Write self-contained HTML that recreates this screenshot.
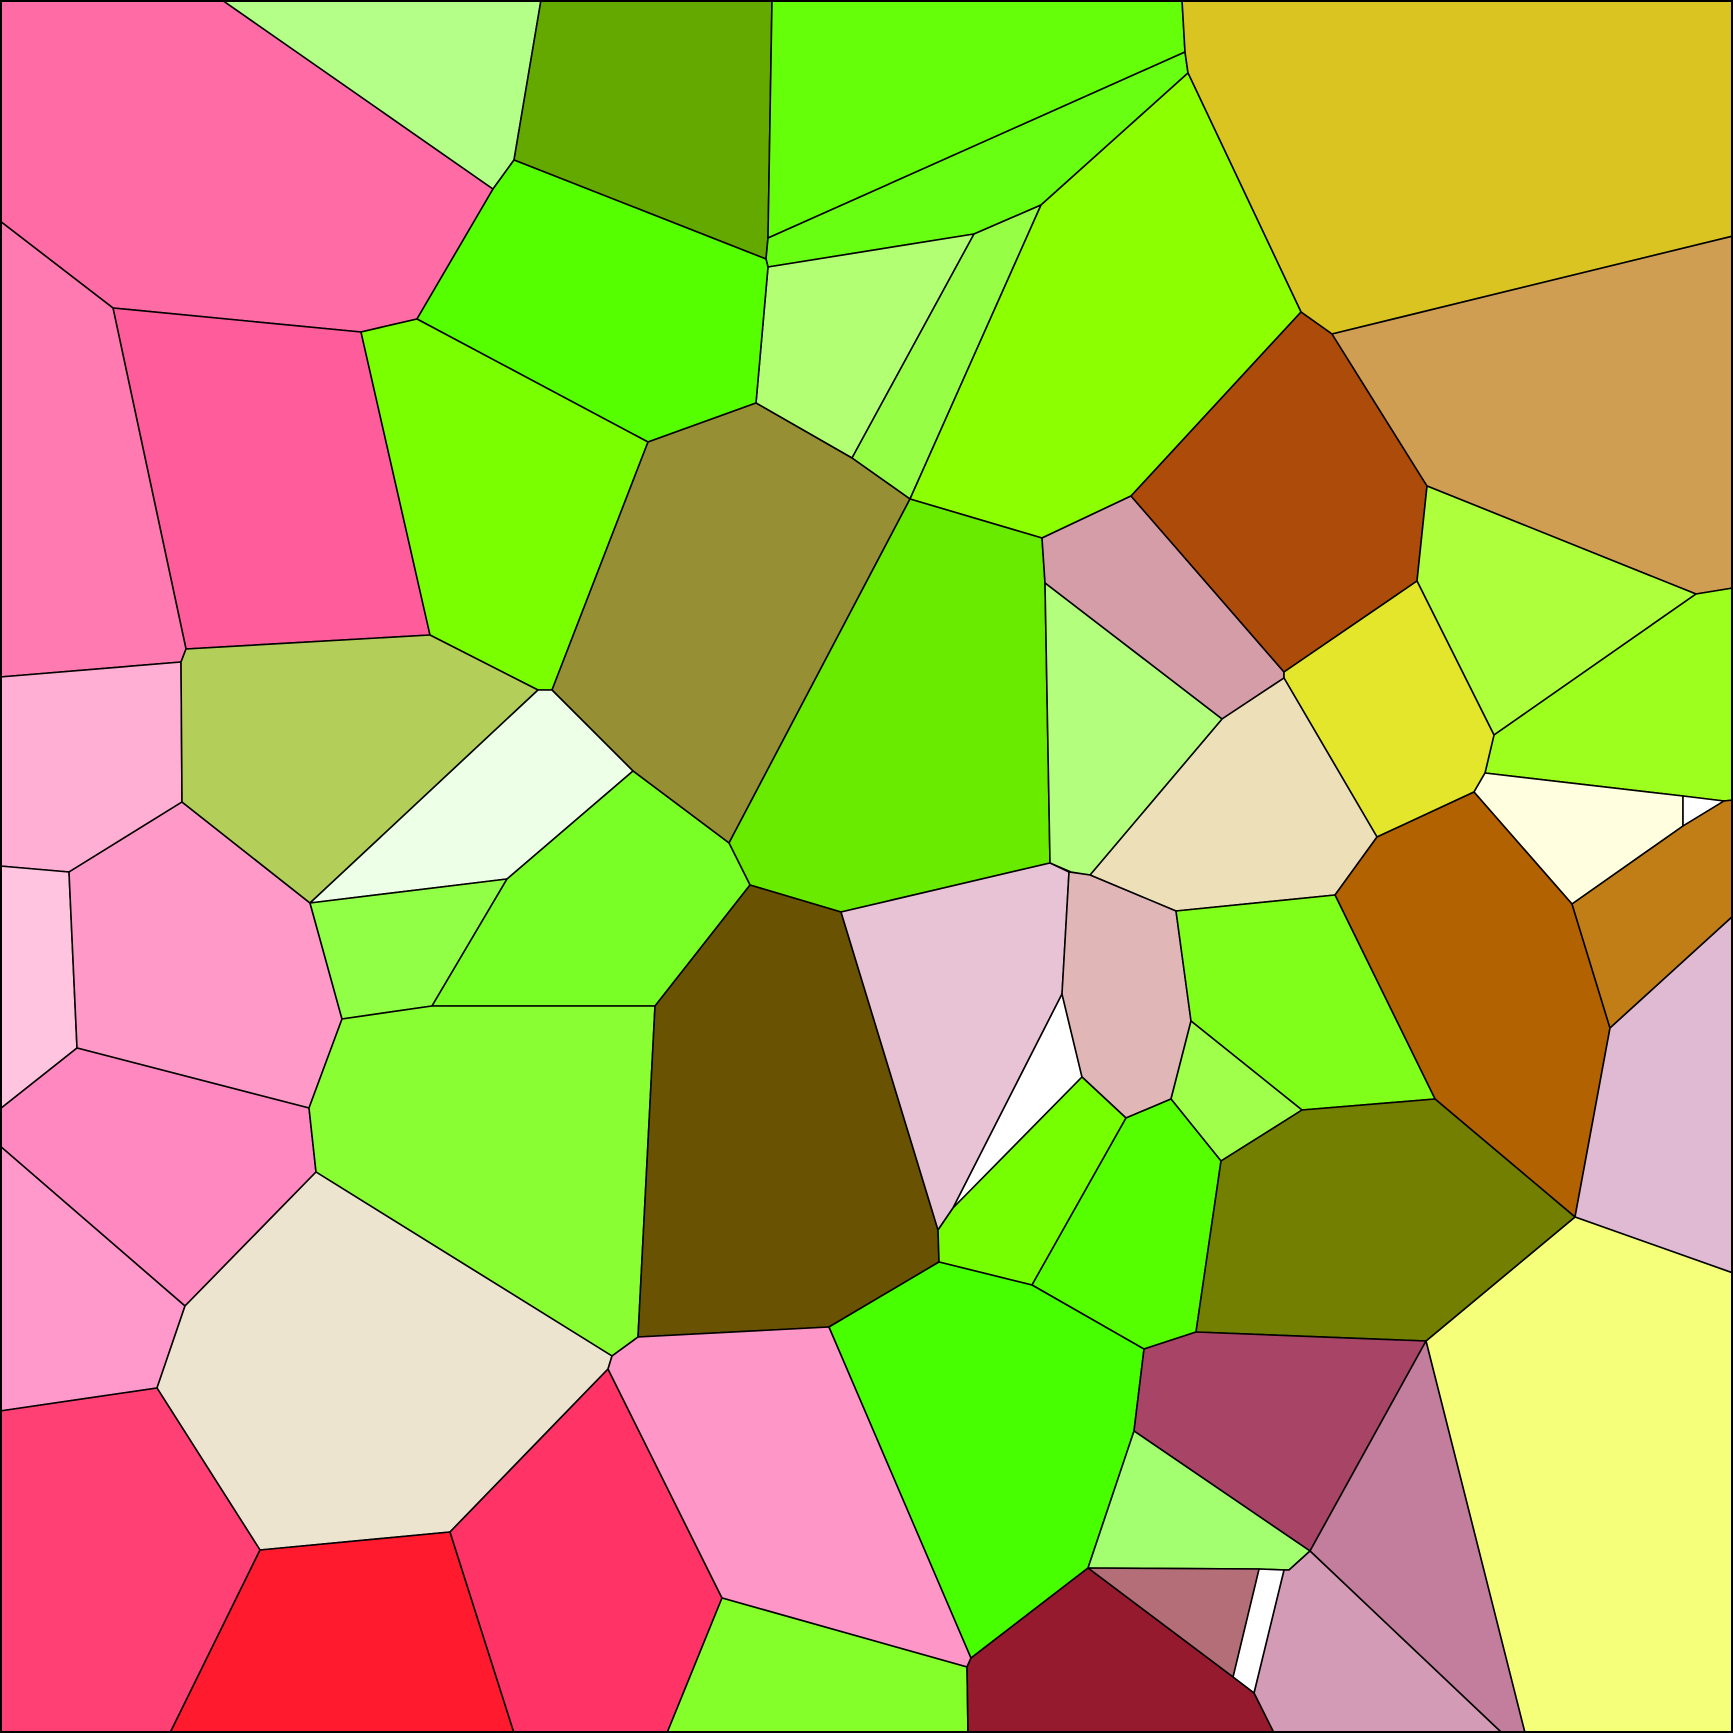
<!DOCTYPE html>
<html><head><meta charset="utf-8"><style>html,body{margin:0;padding:0;background:#fff}svg{display:block}</style></head>
<body>
<svg width="1733" height="1733" viewBox="0 0 1733 1733" xmlns="http://www.w3.org/2000/svg">
<g stroke="#000" stroke-width="1.6" stroke-linejoin="round">
<polygon fill="#ff6ba4" points="0,0 222,0 493,189 417,319 361,332 113,308 0,221"/>
<polygon fill="#b3ff87" points="222,0 541,0 514,160 493,189"/>
<polygon fill="#63a900" points="541,0 772,0 768,238 766,259 514,160"/>
<polygon fill="#66ff0a" points="772,0 1182,0 1185,52 768,238"/>
<polygon fill="#68ff12" points="768,238 1185,52 1188,73 1041,205 974,234 768,267 766,259"/>
<polygon fill="#d9c421" points="1182,0 1733,0 1733,236 1332,334 1301,312 1188,73 1185,52"/>
<polygon fill="#b3ff73" points="768,267 974,234 852,458 756,403"/>
<polygon fill="#96ff45" points="974,234 1041,205 910,499 852,458"/>
<polygon fill="#8cff00" points="1041,205 1188,73 1301,312 1131,496 1042,538 910,499"/>
<polygon fill="#55ff00" points="514,160 766,259 768,267 756,403 648,442 417,319 493,189"/>
<polygon fill="#ff5c9c" points="113,308 361,332 430,635 186,649"/>
<polygon fill="#ff7ab0" points="0,221 113,308 186,649 181,662 0,677"/>
<polygon fill="#7aff00" points="361,332 417,319 648,442 552,690 538,690 430,635"/>
<polygon fill="#978f33" points="648,442 756,403 852,458 910,499 729,843 633,771 552,690"/>
<polygon fill="#69eb00" points="910,499 1042,538 1045,583 1050,863 841,912 750,885 729,843"/>
<polygon fill="#d49da8" points="1042,538 1131,496 1284,672 1284,678 1222,719 1045,583"/>
<polygon fill="#ad4b0b" points="1131,496 1301,312 1332,334 1427,486 1417,581 1284,672"/>
<polygon fill="#d09e52" points="1332,334 1733,236 1733,588 1696,594 1427,486"/>
<polygon fill="#aeff3c" points="1427,486 1696,594 1494,735 1417,581"/>
<polygon fill="#9dff1d" points="1696,594 1733,588 1733,800 1724,801 1683,796 1485,773 1494,735"/>
<polygon fill="#e3e62a" points="1284,672 1417,581 1494,735 1485,773 1474,792 1377,837 1284,678"/>
<polygon fill="#ede0b8" points="1222,719 1284,678 1377,837 1335,895 1176,911 1090,875"/>
<polygon fill="#b3ff7d" points="1045,583 1222,719 1090,875 1071,872 1050,863"/>
<polygon fill="#ffffe0" points="1474,792 1485,773 1683,796 1683,826 1572,904"/>
<polygon fill="#ffffff" points="1683,796 1724,801 1683,826"/>
<polygon fill="#b26200" points="1377,837 1474,792 1572,904 1610,1028 1575,1217 1435,1099 1335,895"/>
<polygon fill="#c17e16" points="1572,904 1683,826 1724,801 1733,800 1733,916 1610,1028"/>
<polygon fill="#e0bad2" points="1610,1028 1733,916 1733,1273 1575,1217"/>
<polygon fill="#f5ff7a" points="1575,1217 1733,1273 1733,1733 1525,1733 1426,1341"/>
<polygon fill="#ffaed4" points="0,677 181,662 182,802 69,872 0,866"/>
<polygon fill="#ffc4e0" points="0,866 69,872 77,1048 0,1109"/>
<polygon fill="#ff99c8" points="69,872 182,802 310,903 342,1019 309,1108 77,1048"/>
<polygon fill="#b3cf5a" points="181,662 186,649 430,635 538,690 310,903 182,802"/>
<polygon fill="#eeffe8" points="538,690 552,690 633,771 507,879 310,903"/>
<polygon fill="#90ff45" points="310,903 507,879 432,1006 342,1019"/>
<polygon fill="#7aff26" points="507,879 633,771 729,843 750,885 655,1006 432,1006"/>
<polygon fill="#ff88c0" points="0,1109 77,1048 309,1108 316,1172 185,1306 0,1146"/>
<polygon fill="#ff99cc" points="0,1146 185,1306 157,1388 0,1411"/>
<polygon fill="#89ff33" points="342,1019 432,1006 655,1006 638,1337 612,1356 316,1172 309,1108"/>
<polygon fill="#6a5203" points="655,1006 750,885 841,912 938,1230 939,1262 829,1327 638,1337"/>
<polygon fill="#e8c3d6" points="841,912 1050,863 1069,872 1062,994 953,1208 938,1230"/>
<polygon fill="#ffffff" points="1062,994 1082,1077 953,1208"/>
<polygon fill="#e0b7b6" points="1069,872 1090,875 1176,911 1191,1021 1171,1099 1126,1118 1082,1077 1062,994"/>
<polygon fill="#80ff1a" points="1176,911 1335,895 1435,1099 1302,1110 1191,1021"/>
<polygon fill="#a0ff4a" points="1191,1021 1302,1110 1221,1161 1171,1099"/>
<polygon fill="#75ff00" points="953,1208 1082,1077 1126,1118 1032,1285 939,1262 938,1230"/>
<polygon fill="#55ff00" points="1126,1118 1171,1099 1221,1161 1196,1332 1144,1349 1032,1285"/>
<polygon fill="#737f00" points="1221,1161 1302,1110 1435,1099 1575,1217 1426,1341 1196,1332"/>
<polygon fill="#ede4d0" points="185,1306 316,1172 612,1356 608,1369 450,1532 260,1550 157,1388"/>
<polygon fill="#ff4074" points="0,1411 157,1388 260,1550 170,1733 0,1733"/>
<polygon fill="#ff1a2e" points="260,1550 450,1532 514,1733 170,1733"/>
<polygon fill="#ff3366" points="450,1532 608,1369 722,1598 667,1733 514,1733"/>
<polygon fill="#ff96c8" points="612,1356 638,1337 829,1327 971,1658 967,1667 722,1598 608,1369"/>
<polygon fill="#48ff00" points="829,1327 939,1262 1032,1285 1144,1349 1134,1431 1088,1568 971,1658"/>
<polygon fill="#85ff2a" points="722,1598 967,1667 968,1733 667,1733"/>
<polygon fill="#a84466" points="1144,1349 1196,1332 1426,1341 1310,1551 1134,1431"/>
<polygon fill="#a3ff70" points="1134,1431 1310,1551 1289,1570 1259,1569 1088,1568"/>
<polygon fill="#c27e9c" points="1426,1341 1525,1733 1502,1733 1310,1551"/>
<polygon fill="#d49bb6" points="1310,1551 1502,1733 1274,1733 1254,1693 1284,1570 1289,1570"/>
<polygon fill="#ffffff" points="1259,1569 1284,1570 1254,1693 1233,1677"/>
<polygon fill="#b36e78" points="1088,1568 1259,1569 1233,1677"/>
<polygon fill="#951a2e" points="971,1658 1088,1568 1233,1677 1254,1693 1274,1733 968,1733 967,1667"/>
</g>
<rect x="1" y="1" width="1731" height="1731" fill="none" stroke="#000" stroke-width="2"/>
</svg>
</body></html>
